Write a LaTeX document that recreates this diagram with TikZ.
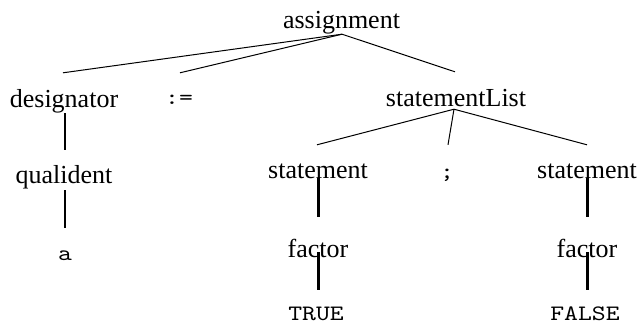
\documentclass[tikz,border=0pt]{standalone}
\usepackage{fontspec}
\setmainfont{Liberation Serif}
\setmonofont{lmmono10-regular.otf}[FakeStretch=1.2]
\begin{document}
\begin{tikzpicture}[x=1pt,y=-1pt,
  nt/.style={inner sep=0pt, anchor=base, text height=18pt, text depth=6pt, font=\fontsize{26}{30}\selectfont},
  tm/.style={inner sep=0pt, anchor=base, text height=18pt, text depth=6pt, font=\fontsize{22}{28}\selectfont\ttfamily},
  diag/.style={line width=1pt},
  thin/.style={line width=1.8pt},
  thick/.style={line width=3pt}]
\useasboundingbox (0,0) rectangle (641,325);
% nodes
\node[nt] (as) at (341.5,28) {assignment};
\node[nt] (de) at (64,107) {designator};
\node[tm] (ce) at (179,104) {:=};
\node[nt] (sl) at (456,106) {statementList};
\node[nt] (qu) at (64,183) {qualident};
\node[tm] (a) at (65,260) {a};
\node[nt] (s1) at (318,178) {statement};
\node[tm] (sc) at (447,178) {;};
\node[nt] (s2) at (587,178) {statement};
\node[nt] (f1) at (318,257) {factor};
\node[nt] (f2) at (587,257) {factor};
\node[tm] (tr) at (316,320) {TRUE};
\node[tm] (fa) at (585,320) {FALSE};
% connectors
\draw[diag] ([xshift=0.5pt]as.south) -- ([xshift=-1pt,yshift=16pt]de.north);
\draw[diag] ([xshift=0.5pt]as.south) -- ([xshift=1pt,yshift=13pt]ce.north);
\draw[diag] ([xshift=0.5pt]as.south) -- ([xshift=-1pt,yshift=16pt]sl.north);
\draw[diag] ([xshift=-2pt,yshift=3pt]sl.south) -- ([xshift=-1pt,yshift=15pt]s1.north);
\draw[diag] ([xshift=-2pt,yshift=3pt]sl.south) -- ([xshift=1pt,yshift=15pt]sc.north);
\draw[diag] ([xshift=-2pt,yshift=3pt]sl.south) -- ([yshift=15pt]s2.north);
\draw[thin] ([xshift=1pt]de.south) -- ([xshift=1pt,yshift=15pt]qu.north);
\draw[thin] ([xshift=1pt,yshift=-1pt]qu.south) -- ([yshift=14pt]a.north);
\draw[thick] (s1.base) -- ([yshift=22pt]f1.north);
\draw[thick] ([yshift=5pt]f1.base) -- ([xshift=2pt,yshift=12pt]tr.north);
\draw[thick] (s2.base) -- ([yshift=22pt]f2.north);
\draw[thick] ([yshift=5pt]f2.base) -- ([xshift=2pt,yshift=12pt]fa.north);
\end{tikzpicture}
\end{document}
